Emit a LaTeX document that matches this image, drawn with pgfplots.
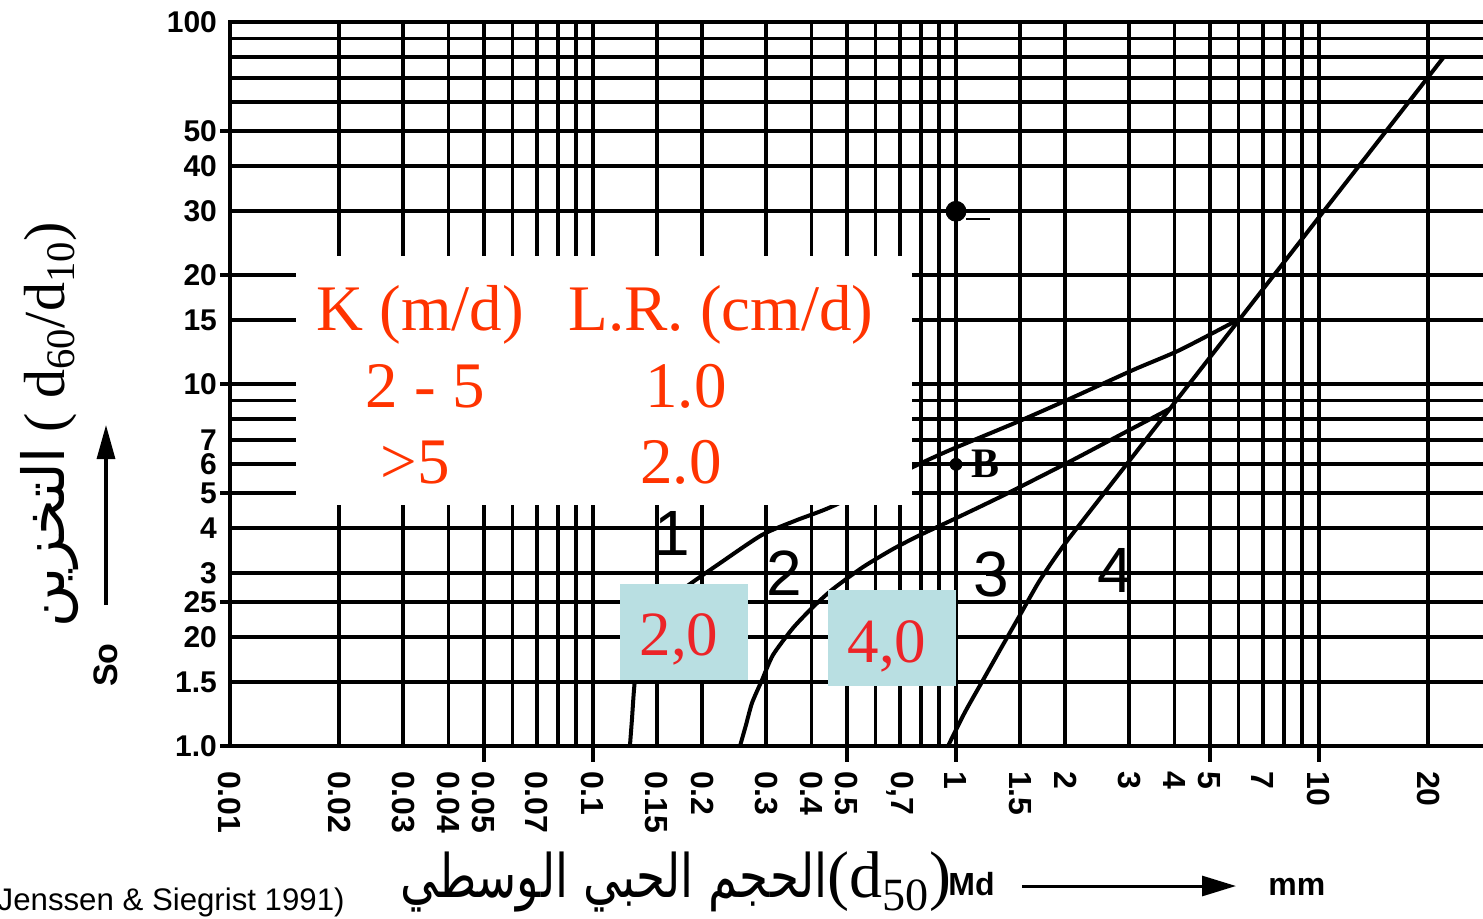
\documentclass[border=0pt]{standalone}
\usepackage{fontspec}
\setmainfont{Liberation Serif}
\setsansfont{Liberation Sans}
\newfontfamily\arabicfont[Script=Arabic]{DejaVu Sans}
\TeXXeTstate=1
\usepackage{graphicx}
\usepackage{pgfplots}
\pgfplotsset{compat=1.18}
\usetikzlibrary{arrows.meta}
\definecolor{lrred}{RGB}{255,51,0}
\definecolor{kred}{RGB}{236,36,40}
\definecolor{kbox}{RGB}{185,223,226}

\begin{document}
\begin{tikzpicture}
\begin{axis}[
  at={(0pt,0pt)}, anchor=south west,
  scale only axis, width=631.1pt, height=362pt,
  xmode=log, ymode=log,
  xmin=0.01, xmax=30, ymin=1, ymax=100,
  axis line style={line width=2.4pt},
  xtick={0.01,0.02,0.03,0.04,0.05,0.07,0.1,0.15,0.2,0.3,0.4,0.5,0.7,1,1.5,2,3,4,5,7,10,20},
  xticklabels={0.01,0.02,0.03,0.04,0.05,0.07,0.1,0.15,0.2,0.3,0.4,0.5,{0,7},1,1.5,2,3,4,5,7,10,20},
  minor xtick={0.06,0.08,0.09,0.6,0.8,0.9,6,8,9},
  ytick={1,1.5,2,2.5,3,4,5,6,7,10,15,20,30,40,50,100},
  yticklabels={1.0,1.5,20,25,3,4,5,6,7,10,15,20,30,40,50,100},
  minor ytick={8,9,60,70,80,90},
  grid=both,
  major grid style={black, line width=1.9pt},
  minor grid style={black, line width=1.9pt},
  xtick pos=bottom, ytick pos=left,
  tick align=outside,
  major tick length=0pt, minor tick length=0pt,
  tick style={black, line width=2pt},
  x tick label style={font=\sffamily\bfseries\fontsize{16}{16}\selectfont, yshift=-9pt, rotate=-90, anchor=west},
  y tick label style={font=\sffamily\bfseries\fontsize{15}{15}\selectfont, anchor=east, xshift=-3pt},
  extra x ticks={0.05,0.1,0.5,1,5,10},
  extra x tick labels={},
  extra x tick style={major tick length=8pt, grid=none, tick label style={text opacity=0}},
  extra y ticks={1,2.5,5,10,20,50},
  extra y tick labels={},
  extra y tick style={major tick length=5pt, grid=none, tick label style={text opacity=0}},
]
% boundary between zones 1 and 2
\addplot[line width=2pt, smooth, tension=0.4] coordinates {
  (0.1264,1) (0.128,1.18) (0.1305,1.52) (0.1365,1.84) (0.1482,2.23)
  (0.163,2.53) (0.1849,2.80) (0.2238,3.20) (0.2921,3.83) (0.3648,4.21)
  (0.4583,4.60) (0.7614,5.90) (0.9627,6.57) (1.472,7.85) (2.022,9.03)
  (3.073,10.93) (4.141,12.42) (6.06,15.15)};
% boundary between zones 2 and 3
\addplot[line width=2pt, smooth, tension=0.4] coordinates {
  (0.2541,1) (0.2639,1.143) (0.2742,1.315) (0.2921,1.521) (0.3132,1.784)
  (0.3556,2.118) (0.4037,2.421) (0.4583,2.715) (0.5545,3.122) (0.6705,3.501)
  (0.7963,3.827) (0.9627,4.183) (1.322,4.873) (2.022,6.05) (2.830,7.23)
  (3.886,8.55)};
% boundary between zones 3 and 4
\addplot[line width=2pt, smooth, tension=0.4] coordinates {
  (0.9506,1) (1.0588,1.241) (1.187,1.521) (1.322,1.842) (1.501,2.301)
  (1.704,2.874) (2.022,3.684) (3.073,6.32) (3.886,8.55) (6.06,15.15)
  (10.72,31.6) (21.96,79.55)};
% sample points
\addplot[only marks, mark=*, mark size=5pt, black] coordinates {(1,30)};
\addplot[only marks, mark=*, mark size=3pt, black] coordinates {(1,6)};
\end{axis}

\begin{scope}[x=0.5pt, y=-0.5pt, shift={(-115pt,373pt)}]
  % legend panel and K labels
  \fill[white] (296,256) rectangle (912,505);
  \fill[kbox] (620,584) rectangle (748,680);
  \fill[kbox] (828,590) rectangle (956,686);

  \begin{scope}[every node/.style={anchor=base west, inner sep=0pt, text=lrred, font=\fontsize{32.5}{32.5}\selectfont}]
    \node at (316,330) {K (m/d)};
    \node at (568,330) {L.R. (cm/d)};
    \node at (365,407) {2 - 5};
    \node at (645,407) {1.0};
    \node at (380,483) {>5};
    \node at (640,483) {2.0};
  \end{scope}
  \node[anchor=base, inner sep=0pt, text=kred, font=\fontsize{31.5}{31.5}\selectfont] at (679,655) {2,0};
  \node[anchor=base, inner sep=0pt, text=kred, font=\fontsize{31.5}{31.5}\selectfont] at (887,662) {4,0};

  % zone numbers
  \begin{scope}[every node/.style={inner sep=0pt, font=\sffamily\fontsize{32}{32}\selectfont}]
    \node at (672,533) {1};
    \node at (784,573) {2};
    \node at (991,574) {3};
    \node at (1115,570) {4};
  \end{scope}
  \node[inner sep=0pt, font=\bfseries\fontsize{21}{21}\selectfont] at (985,464) {B};
  \draw[line width=0.9pt] (966,219) -- (990,219);

  % axis titles
  \node[rotate=90, inner sep=0pt, font=\fontsize{29}{29}\selectfont] at (50,425)
    {{\arabicfont\beginR التخزين\endR} ( d\textsubscript{60}/d\textsubscript{10})};
  \node[rotate=90, inner sep=0pt, font=\sffamily\bfseries\fontsize{17}{17}\selectfont] at (106,665) {So};
  \draw[line width=1.6pt, -{Triangle[length=17pt,width=9pt]}] (106,605) -- (106,425);

  \node[anchor=base west, inner sep=0pt, font=\fontsize{33}{33}\selectfont] at (400,897)
    {\scalebox{0.78}[1]{\fontsize{30}{30}\arabicfont\beginR الحجم الحبي الوسطي\endR}(d\textsubscript{50})};
  \node[anchor=base west, inner sep=0pt, font=\sffamily\bfseries\fontsize{16}{16}\selectfont] at (948,895) {Md};
  \draw[line width=1.5pt, -{Triangle[length=17pt,width=10pt]}] (1022,886) -- (1236,886);
  \node[anchor=base west, inner sep=0pt, font=\sffamily\bfseries\fontsize{16}{16}\selectfont] at (1268,895) {mm};
  \node[anchor=base east, inner sep=0pt, font=\sffamily\fontsize{15.6}{15.6}\selectfont] at (345,910) {(Jenssen \& Siegrist 1991)};
\end{scope}

\pgfresetboundingbox
\path[use as bounding box] (-115pt,-86pt) rectangle (626.5pt,373pt);
\end{tikzpicture}
\end{document}
